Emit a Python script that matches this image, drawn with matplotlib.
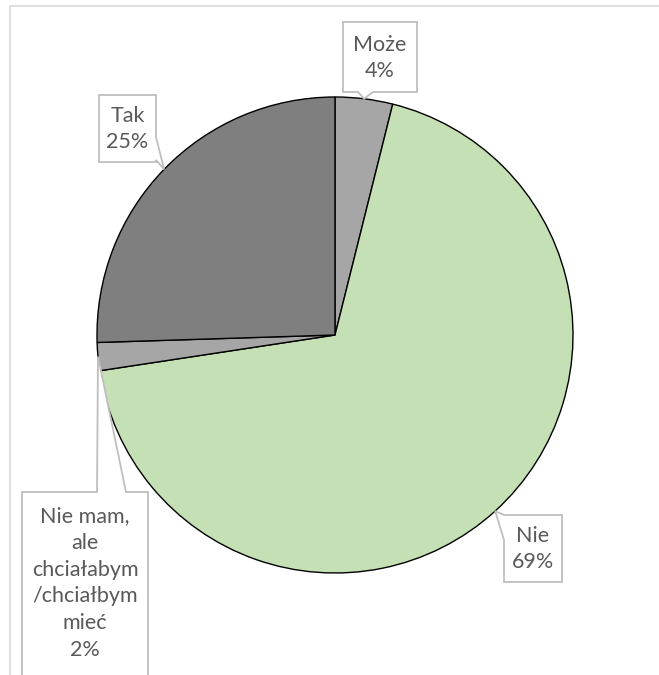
import numpy as np
import matplotlib
matplotlib.use('Agg')
from matplotlib import pyplot as plt
from matplotlib.patches import Polygon, Rectangle

# data
labels = ['Może', 'Nie', 'Nie mam,\nale\nchciałabym\n/chciałbym\nmieć', 'Tak']
values = [3.9, 68.7, 1.9, 25.5]
pct_text = ['4%', '69%', '2%', '25%']
colors = ['#A6A6A6', '#C5E0B4', '#A6A6A6', '#7F7F7F']

W, H = 659, 675
fig = plt.figure(figsize=(W / 100, H / 100), dpi=100)
ax = fig.add_axes([0, 0, 1, 1])

# chart area frame (runs off the right and bottom edges)
ax.add_patch(Rectangle((10, -20), 700, H - 6 + 20, fill=False,
                       edgecolor='#D9D9D9', lw=1.2))

cx, cy, r = 335, H - 335, 238
wedges, _ = ax.pie(values, colors=colors, startangle=90, counterclock=False,
                   center=(cx, cy), radius=r, frame=True,
                   wedgeprops=dict(edgecolor='black', linewidth=1))
ax.set_xlim(0, W)
ax.set_ylim(0, H)
ax.set_aspect('equal')
ax.axis('off')


def mid_point(w):
    ang = np.deg2rad((w.theta1 + w.theta2) / 2)
    return cx + r * np.cos(ang), cy + r * np.sin(ang)


def callout(box, side, a, b, tip):
    x0, y0, x1, y1 = box
    y0, y1 = H - y0, H - y1
    tl, tr, br, bl = (x0, y0), (x1, y0), (x1, y1), (x0, y1)
    if side == 'top':
        pts = [tl, (a, y0), tip, (b, y0), tr, br, bl]
    elif side == 'right':
        pts = [tl, tr, (x1, H - a), tip, (x1, H - b), br, bl]
    elif side == 'bottom':
        pts = [tl, tr, br, (b, y1), tip, (a, y1), bl]
    else:
        pts = [tl, tr, br, bl, (x0, H - b), tip, (x0, H - a)]
    ax.add_patch(Polygon(pts, closed=True, facecolor='white',
                         edgecolor='#BFBFBF', lw=1.3, zorder=5))


boxes = [(343, 22, 417, 92), (504, 515, 562, 582),
         (22, 492, 148, 700), (99, 95, 156, 162)]
sides = ['bottom', 'left', 'top', 'right']
notches = [(358, 373), (515, 540), (97, 126), (137, 160)]
text_y = [58, 549, 583, 129]

for i, w in enumerate(wedges):
    tip = mid_point(w)
    callout(boxes[i], sides[i], notches[i][0], notches[i][1], tip)
    bx = (boxes[i][0] + boxes[i][2]) / 2
    ax.text(bx, H - text_y[i], labels[i] + '\n' + pct_text[i],
            ha='center', va='center', fontsize=15.5, color='#595959',
            family=['Lato', 'DejaVu Sans'], linespacing=1.42, zorder=6)

fig.savefig('out.png', dpi=100)
